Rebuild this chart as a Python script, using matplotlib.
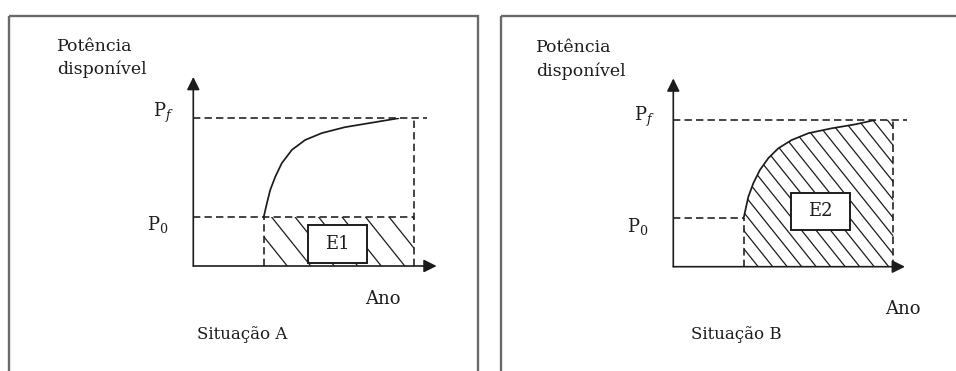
import matplotlib
matplotlib.use("Agg")
import matplotlib.pyplot as plt
import numpy as np
from matplotlib.patches import Rectangle, Polygon
from matplotlib.lines import Line2D
from matplotlib.transforms import IdentityTransform

plt.rcParams['font.family'] = ['DejaVu Serif']
plt.rcParams['mathtext.fontset'] = 'dejavuserif'

# ---------------- data ----------------
year_end = 10.0          # last year (right dashed line)
t_start = 3.2            # year where growth starts
P0 = 1.0                 # initial available power
Pf = 3.0                 # final available power

curve_a_t = [3.2, 3.34, 3.49, 3.72, 4.02, 4.48, 5.08, 5.84, 6.89, 8.10, 9.31]
curve_a_p = [1.0, 1.27, 1.54, 1.81, 2.09, 2.36, 2.56, 2.70, 2.82, 2.91, 3.0]

curve_b_t = [3.2, 3.41, 3.64, 3.94, 4.32, 4.77, 5.38, 6.14, 7.20, 8.26, 9.17]
curve_b_p = [1.0, 1.43, 1.71, 1.98, 2.22, 2.42, 2.59, 2.73, 2.83, 2.91, 3.0]

y_label = ["Potência", "disponível"]
x_label = "Ano"
p_labels = ["P$_{f}$", "P$_{0}$"]
titles = ["Situação A", "Situação B"]
area_labels = ["E1", "E2"]

# ---------------- figure ----------------
W, H = 956, 371
fig = plt.figure(figsize=(W / 100, H / 100), dpi=100)
bg = fig.add_axes([0, 0, 1, 1])
bg.set_xlim(0, W)
bg.set_ylim(H, 0)
bg.axis('off')

frame_col = '#6a6a6a'
ink = '#1c1c1c'
bg.add_patch(Rectangle((9, 16), 469.3, 420, fill=False, ec=frame_col, lw=1.7))
bg.add_patch(Rectangle((501, 16), 520, 420, fill=False, ec=frame_col, lw=1.7))


def make_panel(px_left, px_right, px_bottom, px_top):
    ax = fig.add_axes([px_left / W, (H - px_bottom) / H,
                       (px_right - px_left) / W, (px_bottom - px_top) / H])
    ax.set_xlim(0, year_end)
    ax.set_ylim(0, Pf)
    ax.axis('off')
    ax.patch.set_alpha(0)
    return ax


def axes_arrows(ax, xtip, ytip):
    ap = dict(arrowstyle='-|>,head_length=0.7,head_width=0.35', mutation_scale=11,
              lw=1.2, color=ink, shrinkA=0, shrinkB=0)
    ax.annotate('', xy=(0, ytip), xytext=(0, 0), arrowprops=ap, annotation_clip=False)
    ax.annotate('', xy=(xtip, 0), xytext=(0, 0), arrowprops=ap, annotation_clip=False)


def dashed(ax, xs, ys):
    ax.plot(xs, ys, color=ink, lw=1.15, dashes=(4.6, 2.6), clip_on=False,
            solid_capstyle='butt', dash_capstyle='butt')


def hatch(ax, verts, spacing, slope=0.8, lw=0.9):
    poly = Polygon(verts, closed=True, fill=False, lw=0, transform=ax.transData)
    ax.add_patch(poly)
    d = ax.transData.transform(np.asarray(verts))
    x0, y0 = d.min(axis=0)
    x1, y1 = d.max(axis=0)
    h = y1 - y0
    for c in np.arange(x0 - slope * h, x1 + spacing, spacing):
        ln = Line2D([c, c + slope * h], [y1, y0], transform=IdentityTransform(),
                    color=ink, lw=lw)
        ln.set_clip_path(poly)
        ax.add_line(ln)


def e_box(ax, x0, x1, y0, y1, label):
    ax.add_patch(Rectangle((x0, y0), x1 - x0, y1 - y0, fc='white', ec=ink,
                           lw=1.4, zorder=5))
    ax.text((x0 + x1) / 2, (y0 + y1) / 2, label, ha='center', va='center',
            fontsize=13, color=ink, zorder=6)


# ---------------- Situação A ----------------
axA = make_panel(193.3, 413.5, 266.0, 118.3)
hatch(axA, [(t_start, 0), (t_start, P0), (year_end, P0), (year_end, 0)], spacing=23.5)
dashed(axA, [0, 10.61], [Pf, Pf])
dashed(axA, [0, year_end], [P0, P0])
dashed(axA, [year_end, year_end], [0, Pf])
dashed(axA, [t_start, t_start], [0, P0])
axA.plot(curve_a_t, curve_a_p, color=ink, lw=1.25, zorder=4)
axes_arrows(axA, 11.05, 3.84)
e_box(axA, 5.22, 7.87, 0.055, 0.83, area_labels[0])

# ---------------- Situação B ----------------
axB = make_panel(673.3, 893.3, 266.7, 120.0)
vertsB = [(t_start, 0)] + list(zip(curve_b_t, curve_b_p)) + [(year_end, Pf), (year_end, 0)]
hatch(axB, vertsB, spacing=14.5)
dashed(axB, [0, 10.62], [Pf, Pf])
dashed(axB, [0, t_start], [P0, P0])
dashed(axB, [year_end, year_end], [0, Pf])
dashed(axB, [t_start, t_start], [0, P0])
axB.plot(curve_b_t, curve_b_p, color=ink, lw=1.25, zorder=4)
axes_arrows(axB, 10.53, 3.85)
e_box(axB, 5.35, 8.03, 0.76, 1.51, area_labels[1])

# ---------------- texts (pixel layout) ----------------
fs = 12.5
def txt(x, y, s, size=fs):
    bg.text(x, y, s, ha='left', va='baseline', fontsize=size, color=ink)

# left panel
txt(56.7, 51, y_label[0])
txt(56.7, 74.3, y_label[1])
txt(152.7, 117, p_labels[0], 13)
txt(146.7, 230, p_labels[1], 13)
txt(365, 304.3, x_label, 13)
txt(197, 339, titles[0], 12)

# right panel
txt(536.3, 52, y_label[0])
txt(536.3, 75.5, y_label[1])
txt(634, 121, p_labels[0], 13)
txt(626.7, 232.3, p_labels[1], 13)
txt(885, 314.3, x_label, 13)
txt(691, 339, titles[1], 12)

fig.savefig('out.png', dpi=100)
